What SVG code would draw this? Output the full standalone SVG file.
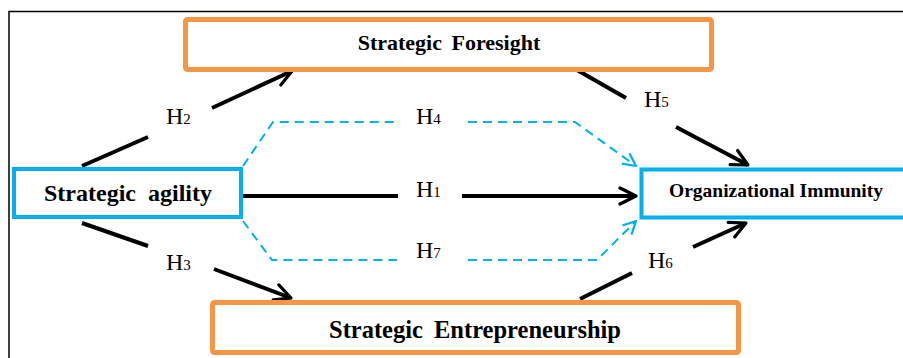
<svg xmlns="http://www.w3.org/2000/svg" width="903" height="358" viewBox="0 0 903 358">
  <style>
    .frame { fill: none; stroke: #000; stroke-width: 1.5; }
    .orange { fill: #fff; stroke: #f79646; stroke-width: 5; }
    .blue { fill: #fff; stroke: #00b0f0; stroke-width: 4; }
    .title { font-family: "Liberation Serif", "Times New Roman", serif; font-weight: bold; fill: #000; text-anchor: middle; }
    .h { font-family: "Liberation Serif", "Times New Roman", serif; font-size: 24px; fill: #000; }
    .h tspan { font-size: 15px; }
    .solid { fill: none; stroke: #000; stroke-width: 4; }
    .dash { fill: none; stroke: #00b0f0; stroke-width: 2; stroke-dasharray: 9 6; }
  </style>
  <defs>
    <marker id="arrowBlack" viewBox="0 0 10 10" refX="9" refY="5" markerWidth="5" markerHeight="5" orient="auto" markerUnits="strokeWidth">
      <path d="M1,1 L9,5 L1,9" fill="none" stroke="#000" stroke-width="1.6" stroke-linecap="round" stroke-linejoin="round"/>
    </marker>
    <marker id="arrowBlue" viewBox="0 0 10 10" refX="9" refY="5" markerWidth="8" markerHeight="8" orient="auto" markerUnits="strokeWidth">
      <path d="M1,1 L9,5 L1,9" fill="none" stroke="#00b0f0" stroke-width="1.4" stroke-linejoin="round"/>
    </marker>
  </defs>

  <rect width="903" height="358" fill="#fff"/>
  <!-- outer frame (top and left edges) -->
  <path class="frame" d="M9,358 V11.5 H903"/>

  <!-- connectors -->
  <g id="connectors">
    <!-- H1 -->
    <line class="solid" x1="243" y1="196" x2="398" y2="196"/>
    <line class="solid" x1="462" y1="196" x2="636" y2="196" marker-end="url(#arrowBlack)"/>
    <!-- H2 -->
    <line class="solid" x1="82" y1="166" x2="148" y2="137"/>
    <line class="solid" x1="212" y1="108" x2="292" y2="71" marker-end="url(#arrowBlack)"/>
    <!-- H3 -->
    <line class="solid" x1="82" y1="223" x2="148" y2="246"/>
    <line class="solid" x1="214" y1="269" x2="291" y2="298" marker-end="url(#arrowBlack)"/>
    <!-- H5 -->
    <line class="solid" x1="577" y1="70" x2="626" y2="98"/>
    <line class="solid" x1="676" y1="127" x2="748" y2="165" marker-end="url(#arrowBlack)"/>
    <!-- H6 -->
    <line class="solid" x1="580" y1="299" x2="632" y2="273"/>
    <line class="solid" x1="693" y1="247" x2="746" y2="223" marker-end="url(#arrowBlack)"/>
    <!-- H4 -->
    <path class="dash" d="M243,166 L273,122 H397"/>
    <path class="dash" d="M468,122 H575 L636,166" marker-end="url(#arrowBlue)"/>
    <!-- H7 -->
    <path class="dash" d="M243,221 L272,260 H397"/>
    <path class="dash" d="M468,260 H597 L636,221" marker-end="url(#arrowBlue)"/>
  </g>

  <!-- hypothesis labels -->
  <g id="labels">
    <text class="h" x="166" y="124">H<tspan>2</tspan></text>
    <text class="h" x="416" y="124">H<tspan>4</tspan></text>
    <text class="h" x="416" y="197">H<tspan>1</tspan></text>
    <text class="h" x="416" y="258">H<tspan>7</tspan></text>
    <text class="h" x="166" y="270">H<tspan>3</tspan></text>
    <text class="h" x="644" y="107">H<tspan>5</tspan></text>
    <text class="h" x="648" y="268">H<tspan>6</tspan></text>
  </g>

  <g id="foresight">
    <rect class="orange" x="185.5" y="19.5" width="526" height="50" rx="2"/>
    <text class="title" x="449" y="50" font-size="22" word-spacing="4">Strategic Foresight</text>
  </g>

  <g id="agility">
    <rect class="blue" x="14" y="169" width="227" height="48"/>
    <text class="title" x="128" y="201" font-size="24" word-spacing="6">Strategic agility</text>
  </g>

  <g id="immunity">
    <rect class="blue" x="641.5" y="169.5" width="290" height="48"/>
    <text class="title" x="776" y="197" font-size="19.5">Organizational Immunity</text>
  </g>

  <g id="entrepreneurship">
    <rect class="orange" x="212.5" y="302.5" width="526" height="50" rx="2"/>
    <text class="title" x="475" y="338" font-size="24.5" word-spacing="5">Strategic Entrepreneurship</text>
  </g>
</svg>
